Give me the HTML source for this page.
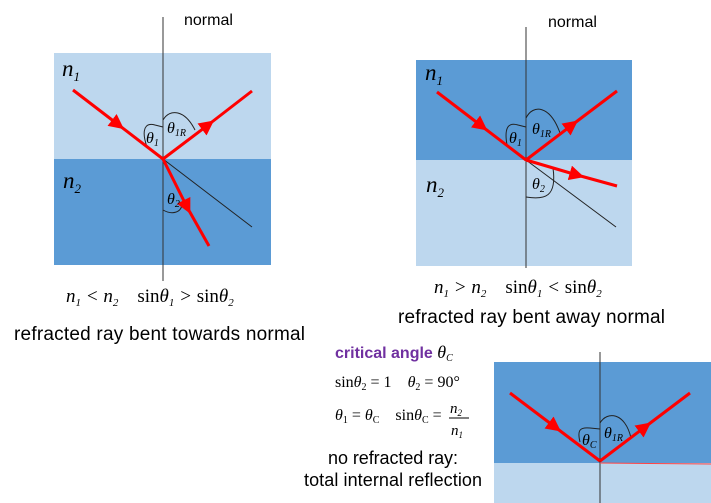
<!DOCTYPE html>
<html><head><meta charset="utf-8"><style>
body{margin:0;background:#fff;}
svg{display:block}
text{white-space:pre}
.s{font-family:"Liberation Sans",sans-serif;fill:#000}
.m{font-family:"Liberation Serif",serif;font-style:italic;fill:#000}
.r{font-family:"Liberation Serif",serif;fill:#000}
</style></head><body>
<svg width="711" height="503" viewBox="0 0 711 503">
<defs>
<marker id="ar" viewBox="0 0 10 10" refX="5" refY="5" markerWidth="5" markerHeight="5" orient="auto"><path d="M0,0L10,5L0,10z" fill="#f00"/></marker>
</defs>
<g>
<rect x="54" y="53" width="217" height="106" fill="#bdd7ee"/>
<rect x="54" y="159" width="217" height="106" fill="#5b9bd5"/>
<line x1="163" y1="17" x2="163" y2="281" stroke="#333" stroke-width="1"/>
<line x1="163" y1="159" x2="252" y2="227" stroke="#222" stroke-width="1"/>
<path d="M147,147 C141,130 145,122 155,125 L163,127" fill="none" stroke="#222" stroke-width="1"/>
<path d="M163,120 C170,108 185,110 195,130" fill="none" stroke="#222" stroke-width="1"/>
<path d="M163,210 C172,215 182,213 182,203" fill="none" stroke="#222" stroke-width="1"/>
<polyline points="73,90 118,124.5" stroke="#f00" stroke-width="3" fill="none" marker-end="url(#ar)"/>
<line x1="118" y1="124.5" x2="163" y2="159" stroke="#f00" stroke-width="3"/>
<polyline points="163,159 208,125" stroke="#f00" stroke-width="3" fill="none" marker-end="url(#ar)"/>
<line x1="208" y1="125" x2="252" y2="91" stroke="#f00" stroke-width="3"/>
<polyline points="163,159 187,207" stroke="#f00" stroke-width="3" fill="none" marker-end="url(#ar)"/>
<line x1="187" y1="207" x2="209" y2="246" stroke="#f00" stroke-width="3"/>
<text x="184" y="25" class="s" font-size="16">normal</text>
<text x="62" y="76" class="m" font-size="23">n<tspan font-size="13" dy="5">1</tspan></text>
<text x="63" y="188" class="m" font-size="23">n<tspan font-size="13" dy="5">2</tspan></text>
<text x="146" y="143" class="m" font-size="16">θ<tspan font-size="10" dy="3">1</tspan></text>
<text x="167" y="133" class="m" font-size="16">θ<tspan font-size="10" dy="3">1R</tspan></text>
<text x="167" y="204" class="m" font-size="16">θ<tspan font-size="10" dy="3">2</tspan></text>
<text x="66" y="302" class="m" font-size="19">n<tspan font-size="11" dy="4">1</tspan><tspan dy="-4"> &lt; n</tspan><tspan font-size="11" dy="4">2</tspan><tspan dy="-4" font-style="normal">    sin</tspan><tspan>θ</tspan><tspan font-size="11" dy="4">1</tspan><tspan dy="-4"> &gt; </tspan><tspan font-style="normal">sin</tspan><tspan>θ</tspan><tspan font-size="11" dy="4">2</tspan></text>
<text x="14" y="340" class="s" font-size="19" textLength="291">refracted ray bent towards normal</text>
</g>
<g>
<rect x="416" y="60" width="216" height="100" fill="#5b9bd5"/>
<rect x="416" y="160" width="216" height="106" fill="#bdd7ee"/>
<line x1="526" y1="27" x2="526" y2="268" stroke="#333" stroke-width="1"/>
<line x1="526" y1="160" x2="616" y2="227" stroke="#222" stroke-width="1"/>
<path d="M507,145 C504,128 508,122 518,125 L526,127" fill="none" stroke="#222" stroke-width="1"/>
<path d="M526,118 C533,104 550,105 560,133" fill="none" stroke="#222" stroke-width="1"/>
<path d="M526,197 C545,200 557,197 553,168" fill="none" stroke="#222" stroke-width="1"/>
<polyline points="437,92 481.5,126" stroke="#f00" stroke-width="3" fill="none" marker-end="url(#ar)"/>
<line x1="481.5" y1="126" x2="526" y2="160" stroke="#f00" stroke-width="3"/>
<polyline points="526,160 572,125" stroke="#f00" stroke-width="3" fill="none" marker-end="url(#ar)"/>
<line x1="572" y1="125" x2="617" y2="91" stroke="#f00" stroke-width="3"/>
<polyline points="526,160 577,175" stroke="#f00" stroke-width="3" fill="none" marker-end="url(#ar)"/>
<line x1="577" y1="175" x2="617" y2="186" stroke="#f00" stroke-width="3"/>
<text x="548" y="27" class="s" font-size="16">normal</text>
<text x="425" y="80" class="m" font-size="23">n<tspan font-size="13" dy="5">1</tspan></text>
<text x="426" y="192" class="m" font-size="23">n<tspan font-size="13" dy="5">2</tspan></text>
<text x="509" y="143" class="m" font-size="16">θ<tspan font-size="10" dy="3">1</tspan></text>
<text x="532" y="134" class="m" font-size="16">θ<tspan font-size="10" dy="3">1R</tspan></text>
<text x="532" y="189" class="m" font-size="16">θ<tspan font-size="10" dy="3">2</tspan></text>
<text x="434" y="293" class="m" font-size="19">n<tspan font-size="11" dy="4">1</tspan><tspan dy="-4"> &gt; n</tspan><tspan font-size="11" dy="4">2</tspan><tspan dy="-4" font-style="normal">    sin</tspan><tspan>θ</tspan><tspan font-size="11" dy="4">1</tspan><tspan dy="-4"> &lt; </tspan><tspan font-style="normal">sin</tspan><tspan>θ</tspan><tspan font-size="11" dy="4">2</tspan></text>
<text x="398" y="323" class="s" font-size="19" textLength="267">refracted ray bent away normal</text>
</g>
<g>
<text x="335" y="358" font-family="Liberation Sans,sans-serif" font-weight="bold" font-size="16" fill="#7030a0">critical angle <tspan class="m" font-weight="normal" fill="#000" font-size="18">θ<tspan font-size="10" dy="3">C</tspan></tspan></text>
<text x="335" y="387" class="r" font-size="16">sin<tspan font-style="italic">θ</tspan><tspan font-size="10" dy="3">2</tspan><tspan dy="-3"> = 1    </tspan><tspan font-style="italic">θ</tspan><tspan font-size="10" dy="3">2</tspan><tspan dy="-3"> = 90°</tspan></text>
<text x="335" y="420" class="r" font-size="16"><tspan font-style="italic">θ</tspan><tspan font-size="10" dy="3">1</tspan><tspan dy="-3"> = </tspan><tspan font-style="italic">θ</tspan><tspan font-size="10" dy="3">C</tspan><tspan dy="-3">    sin</tspan><tspan font-style="italic">θ</tspan><tspan font-size="10" dy="3">C</tspan><tspan dy="-3"> =</tspan></text>
<text x="450" y="413" class="m" font-size="15">n<tspan font-size="9" dy="3">2</tspan></text>
<line x1="449" y1="418" x2="469" y2="418" stroke="#000" stroke-width="1"/>
<text x="451" y="435" class="m" font-size="15">n<tspan font-size="9" dy="3">1</tspan></text>
<text x="328" y="464" class="s" font-size="18" textLength="130">no refracted ray:</text>
<text x="304" y="486" class="s" font-size="18" textLength="178">total internal reflection</text>
<rect x="494" y="362" width="217" height="101" fill="#5b9bd5"/>
<rect x="494" y="463" width="217" height="40" fill="#bdd7ee"/>
<line x1="600" y1="352" x2="600" y2="503" stroke="#333" stroke-width="1"/>
<line x1="600" y1="463" x2="711" y2="464" stroke="#f44" stroke-width="1"/>
<path d="M580,442 C577,430 580,427 590,428 L600,429" fill="none" stroke="#222" stroke-width="1"/>
<path d="M600,423 C607,411 625,412 631,438" fill="none" stroke="#222" stroke-width="1"/>
<polyline points="510,393 555,427" stroke="#f00" stroke-width="3" fill="none" marker-end="url(#ar)"/>
<line x1="555" y1="427" x2="600" y2="461" stroke="#f00" stroke-width="3"/>
<polyline points="600,461 645,427" stroke="#f00" stroke-width="3" fill="none" marker-end="url(#ar)"/>
<line x1="645" y1="427" x2="690" y2="393" stroke="#f00" stroke-width="3"/>
<text x="582" y="445" class="m" font-size="16">θ<tspan font-size="10" dy="3">C</tspan></text>
<text x="604" y="438" class="m" font-size="16">θ<tspan font-size="10" dy="3">1R</tspan></text>
</g>
</svg>
</body></html>
